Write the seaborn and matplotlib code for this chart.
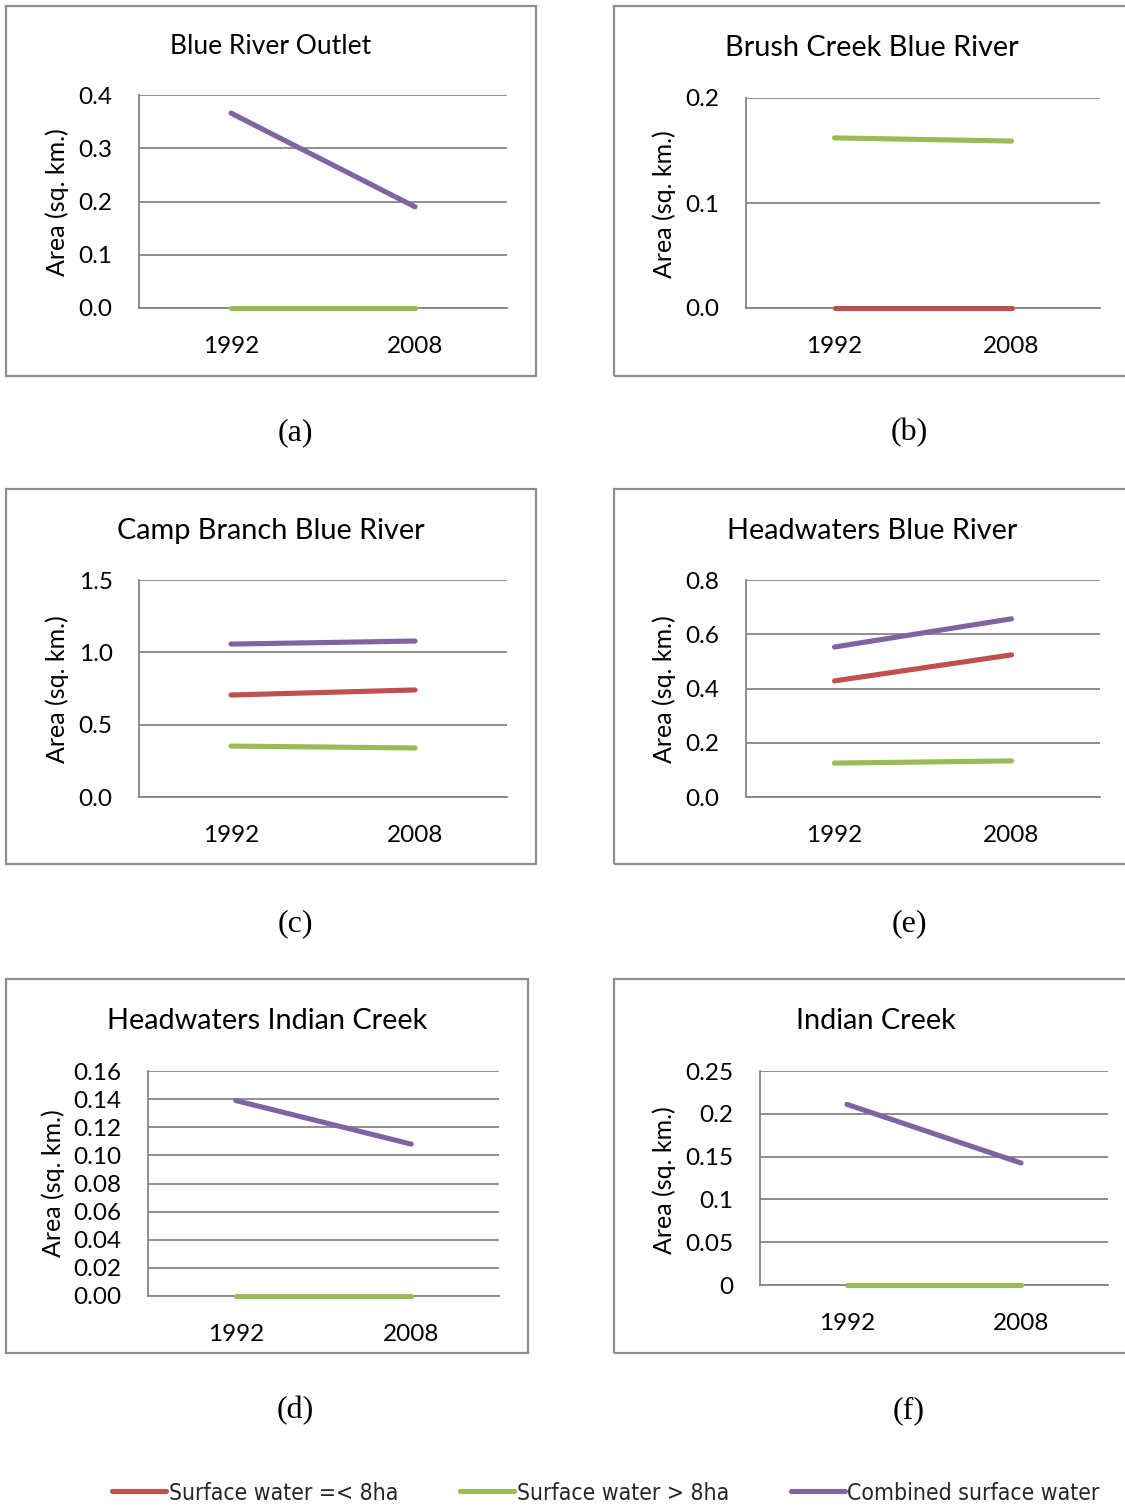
import matplotlib
matplotlib.use("Agg")
import matplotlib.pyplot as plt
from matplotlib.patches import Rectangle
import pandas as pd
import seaborn as sns

# ---- data -------------------------------------------------------------
years = ["1992", "2008"]
series_names = ["Surface water =< 8ha", "Surface water > 8ha", "Combined surface water"]
series_colors = ["#C0504D", "#9BBB59", "#8064A2"]

# (a) Blue River Outlet
outlet_small = None
outlet_large = [0.0, 0.0]
outlet_combined = [0.366, 0.190]

# (b) Brush Creek Blue River
brush_small = [0.0, 0.0]
brush_large = [0.162, 0.159]
brush_combined = None

# (c) Camp Branch Blue River
camp_small = [0.705, 0.740]
camp_large = [0.352, 0.339]
camp_combined = [1.057, 1.078]

# (e) Headwaters Blue River
hwblue_small = [0.428, 0.524]
hwblue_large = [0.125, 0.133]
hwblue_combined = [0.553, 0.657]

# (d) Headwaters Indian Creek
hwindian_small = None
hwindian_large = [0.0, 0.0]
hwindian_combined = [0.139, 0.108]

# (f) Indian Creek
indian_small = None
indian_large = [0.0, 0.0]
indian_combined = [0.211, 0.1425]

ticks_a = [0.0, 0.1, 0.2, 0.3, 0.4]
ticklabels_a = ["0.0", "0.1", "0.2", "0.3", "0.4"]
ticks_b = [0.0, 0.1, 0.2]
ticklabels_b = ["0.0", "0.1", "0.2"]
ticks_c = [0.0, 0.5, 1.0, 1.5]
ticklabels_c = ["0.0", "0.5", "1.0", "1.5"]
ticks_e = [0.0, 0.2, 0.4, 0.6, 0.8]
ticklabels_e = ["0.0", "0.2", "0.4", "0.6", "0.8"]
ticks_d = [0.0, 0.02, 0.04, 0.06, 0.08, 0.10, 0.12, 0.14, 0.16]
ticklabels_d = ["0.00", "0.02", "0.04", "0.06", "0.08", "0.10", "0.12", "0.14", "0.16"]
ticks_f = [0.0, 0.05, 0.10, 0.15, 0.20, 0.25]
ticklabels_f = ["0", "0.05", "0.1", "0.15", "0.2", "0.25"]

# ---- style ------------------------------------------------------------
sns.set_style("white")
plt.rcParams["font.family"] = ["Lato", "DejaVu Sans"]

W, H = 1125, 1508
fig = plt.figure(figsize=(W / 100, H / 100), dpi=100)
fig.patch.set_facecolor("white")

GRID = "#868686"
BOX = "#8c8c8c"
palette = dict(zip(series_names, series_colors))


def fx(x):
    return x / W


def fy(y):
    return 1 - y / H


panels = [
    dict(title="Blue River Outlet", caption="(a)", title_size=19,
         values=[outlet_small, outlet_large, outlet_combined],
         ticks=ticks_a, labels=ticklabels_a,
         box=(6, 6, 536, 376), plot=(139, 95, 507, 308),
         title_xy=(271, 47), ylab_xy=(57, 202), cap_xy=(295, 433)),
    dict(title="Brush Creek Blue River", caption="(b)", title_size=20.8,
         values=[brush_small, brush_large, brush_combined],
         ticks=ticks_b, labels=ticklabels_b,
         box=(614, 6, 1130, 376), plot=(746, 98, 1100, 308),
         title_xy=(872, 48), ylab_xy=(664, 204), cap_xy=(909, 433)),
    dict(title="Camp Branch Blue River", caption="(c)", title_size=20.8,
         values=[camp_small, camp_large, camp_combined],
         ticks=ticks_c, labels=ticklabels_c,
         box=(6, 489, 536, 864), plot=(139, 580, 507, 797),
         title_xy=(271, 531), ylab_xy=(57, 689), cap_xy=(295, 924)),
    dict(title="Headwaters Blue River", caption="(e)", title_size=20.8,
         values=[hwblue_small, hwblue_large, hwblue_combined],
         ticks=ticks_e, labels=ticklabels_e,
         box=(614, 489, 1130, 864), plot=(746, 580, 1100, 797),
         title_xy=(872, 531), ylab_xy=(664, 689), cap_xy=(909, 924)),
    dict(title="Headwaters Indian Creek", caption="(d)", title_size=20.8,
         values=[hwindian_small, hwindian_large, hwindian_combined],
         ticks=ticks_d, labels=ticklabels_d,
         box=(6, 979, 528, 1353), plot=(148, 1071, 499, 1296),
         title_xy=(267, 1021), ylab_xy=(53, 1183), cap_xy=(295, 1411)),
    dict(title="Indian Creek", caption="(f)", title_size=20.8,
         values=[indian_small, indian_large, indian_combined],
         ticks=ticks_f, labels=ticklabels_f,
         box=(614, 979, 1130, 1353), plot=(760, 1071, 1108, 1285),
         title_xy=(876, 1021), ylab_xy=(664, 1180), cap_xy=(909, 1411)),
]

TICK_SIZE = 17.5
LABEL_SIZE = 18
CAPTION_SIZE = 23

for p in panels:
    # outer chart frame
    bx0, by0, bx1, by1 = p["box"]
    fig.patches.append(Rectangle((fx(bx0), fy(by1)), fx(bx1 - bx0), (by1 - by0) / H,
                                 transform=fig.transFigure, fill=False,
                                 edgecolor=BOX, linewidth=1.6, zorder=0))

    x0, y0, x1, y1 = p["plot"]
    ax = fig.add_axes([fx(x0), fy(y1), fx(x1 - x0), (y1 - y0) / H])

    rows = []
    for name, vals in zip(series_names, p["values"]):
        if vals is None:
            continue
        for yr, v in zip(years, vals):
            rows.append({"year": yr, "series": name, "area": v})
    df = pd.DataFrame(rows)
    present = [n for n, v in zip(series_names, p["values"]) if v is not None]

    sns.lineplot(data=df, x="year", y="area", hue="series", hue_order=present,
                 palette=palette, linewidth=3.7, legend=False, sort=False,
                 solid_capstyle="round", ax=ax, zorder=3)
    for ln in ax.lines:
        ln.set_clip_on(False)

    ax.set_xlim(-0.5, 1.5)
    ax.set_ylim(p["ticks"][0], p["ticks"][-1])
    ax.set_yticks(p["ticks"])
    ax.set_yticklabels(p["labels"])
    ax.set_xlabel("")
    ax.set_ylabel("")
    ax.yaxis.grid(True, color=GRID, linewidth=1.3)
    ax.xaxis.grid(False)
    ax.set_axisbelow(True)
    for side in ("top", "right"):
        ax.spines[side].set_visible(False)
    for side in ("left", "bottom"):
        ax.spines[side].set_color(GRID)
        ax.spines[side].set_linewidth(1.3)
    ax.tick_params(axis="y", length=0, pad=19, labelsize=TICK_SIZE, colors="black")
    ax.tick_params(axis="x", length=0, pad=20, labelsize=TICK_SIZE, colors="black")
    for lbl in ax.get_yticklabels() + ax.get_xticklabels():
        lbl.set_color("black")

    fig.text(fx(p["title_xy"][0]), fy(p["title_xy"][1]), p["title"],
             ha="center", va="center", fontsize=p["title_size"], color="black")
    fig.text(fx(p["ylab_xy"][0]), fy(p["ylab_xy"][1]), "Area (sq. km.)",
             ha="center", va="center", rotation=90, fontsize=LABEL_SIZE, color="black")
    fig.text(fx(p["cap_xy"][0]), fy(p["cap_xy"][1]), p["caption"],
             ha="center", va="center", fontsize=CAPTION_SIZE, color="black",
             family=["Liberation Serif", "DejaVu Serif"])

# shared legend along the bottom
handles = [plt.Line2D([], [], color=c, linewidth=3.7) for c in series_colors]
fig.legend(handles, series_names, loc="center", ncol=3,
           bbox_to_anchor=(fx(606), fy(1493)), frameon=False,
           handlelength=2.35, handletextpad=0.12, columnspacing=2.7,
           prop={"family": ["DejaVu Sans"], "size": 16.5, "stretch": "condensed"})

fig.savefig("out.png", dpi=100, facecolor="white")
